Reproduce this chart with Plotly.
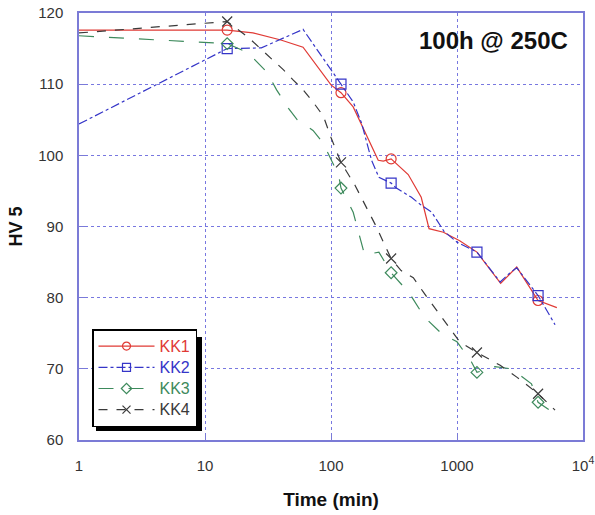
import plotly.graph_objects as go

# ---- data ----
kk1_t = [1, 15, 24, 40, 60, 100, 120, 150, 237, 260, 300, 410, 520, 600, 780, 1050, 1440, 2220, 2980, 4400, 6200]
kk1_hv = [117.6, 117.6, 117.2, 116.2, 115.2, 109.9, 108.8, 106.8, 99.3, 99.2, 99.5, 97.3, 94.1, 89.7, 89.2, 88.0, 86.4, 82.0, 84.3, 79.6, 78.6]
kk1_marks = [15, 120, 300, 4400]

kk2_t = [1, 15, 28, 60, 120, 150, 175, 210, 240, 300, 330, 435, 520, 630, 790, 1000, 1440, 2200, 2600, 2980, 4400, 6000]
kk2_hv = [104.4, 115.0, 115.1, 117.7, 110.0, 107.5, 104.5, 99.3, 96.9, 96.1, 95.4, 94.1, 93.0, 92.0, 89.3, 87.8, 86.4, 82.2, 83.4, 84.2, 80.3, 76.2]
kk2_marks = [15, 120, 300, 1440, 4400]

kk3_t = [1, 15, 22, 31, 37, 46, 54, 72, 86, 115, 120, 150, 185, 240, 300, 420, 550, 750, 1000, 1300, 1440, 2000, 2700, 3900, 4400, 6000]
kk3_hv = [116.8, 115.7, 114.4, 111.7, 109.2, 106.6, 105.0, 103.5, 101.8, 97.2, 95.4, 92.0, 86.0, 86.4, 83.5, 80.6, 77.3, 75.0, 73.8, 71.0, 69.5, 70.3, 70.0, 67.9, 65.3, 63.7]
kk3_marks = [15, 120, 300, 1440, 4400]

kk4_t = [1, 15, 22, 33, 42, 50, 60, 72, 87, 100, 120, 155, 190, 230, 270, 300, 360, 450, 550, 700, 870, 1050, 1440, 2200, 3000, 3900, 4400, 6000]
kk4_hv = [117.2, 118.8, 116.6, 113.7, 112.0, 110.6, 109.2, 107.5, 105.5, 102.5, 99.0, 95.8, 92.7, 89.9, 87.2, 85.5, 83.8, 82.8, 80.6, 78.0, 75.8, 73.8, 72.3, 70.5, 68.8, 67.2, 66.5, 64.2]
kk4_marks = [15, 120, 300, 1440, 4400]

names = ["KK1", "KK2", "KK3", "KK4"]
colors = ["#e03a35", "#3535c8", "#3d8a5c", "#3a3a3a"]
dashes = ["solid", "dashdot", "longdash", "dash"]
symbols = ["circle-open", "square-open", "diamond-open", "x-thin-open"]
msizes = [10, 10, 9, 10]

x_ticks = [1, 10, 100, 1000, 10000]
x_ticktext = ["1", "10", "100", "1000", "10<sup>4</sup>"]
y_ticks = [60, 70, 80, 90, 100, 110, 120]

series = [(kk1_t, kk1_hv, kk1_marks), (kk2_t, kk2_hv, kk2_marks),
          (kk3_t, kk3_hv, kk3_marks), (kk4_t, kk4_hv, kk4_marks)]

FONT = "Liberation Sans, Arial"

fig = go.Figure()
for (t, hv, marks), name, c, d, s, ms in zip(series, names, colors, dashes, symbols, msizes):
    fig.add_trace(go.Scatter(x=t, y=hv, mode="lines", line=dict(color=c, width=1.2, dash=d),
                             showlegend=False, hoverinfo="skip"))
    mx = [ti for ti in t if ti in marks]
    my = [h for ti, h in zip(t, hv) if ti in marks]
    fig.add_trace(go.Scatter(x=mx, y=my, mode="markers",
                             marker=dict(symbol=s, size=ms, color=c, line=dict(width=1.2, color=c)),
                             showlegend=False))
for name, c, d, s, ms in zip(names, colors, dashes, symbols, msizes):
    fig.add_trace(go.Scatter(x=[None], y=[None], mode="lines+markers",
                             name=f"<span style='color:{c};font-size:16px'>{name}</span>",
                             line=dict(color=c, width=1.2, dash=d),
                             marker=dict(symbol=s, size=8, color=c, line=dict(width=1.2, color=c))))

axis_col = "#7b7bd6"
grid_col = "#7878e0"
fig.update_xaxes(type="log", range=[0, 4], tickvals=x_ticks, ticktext=x_ticktext,
                 showline=True, mirror=True, linecolor=axis_col, linewidth=1.5,
                 showgrid=True, gridcolor=grid_col, griddash="dot", gridwidth=1.2,
                 ticks="inside", ticklen=6, tickcolor=axis_col, ticklabelstandoff=11,
                 tickfont=dict(family=FONT, size=15, color="#333"),
                 title=dict(text="<b>Time (min)</b>", font=dict(family=FONT, size=19, color="#111"),
                            standoff=20),
                 zeroline=False, automargin=False)
fig.update_yaxes(range=[60, 120], tickvals=y_ticks,
                 showline=True, mirror=True, linecolor=axis_col, linewidth=1.5,
                 showgrid=True, gridcolor=grid_col, griddash="dot", gridwidth=1.2,
                 ticks="inside", ticklen=6, tickcolor=axis_col, ticklabelstandoff=11,
                 tickfont=dict(family=FONT, size=15, color="#333"),
                 title=dict(text="<b>HV 5</b>", font=dict(family=FONT, size=18, color="#111"),
                            standoff=11),
                 zeroline=False, automargin=False)

# legend shadow
fig.add_shape(type="rect", xref="paper", yref="paper",
              x0=(96 - 79) / 504, x1=(202 - 79) / 504, y0=(440 - 431) / 427, y1=(440 - 337) / 427,
              fillcolor="black", line=dict(width=0), layer="above")

fig.add_annotation(text="<b>100h @ 250C</b>", xref="paper", yref="paper", x=0.975, y=0.935,
                   xanchor="right", yanchor="middle", showarrow=False,
                   font=dict(family=FONT, size=24, color="#111"))

fig.update_layout(width=595, height=515, margin=dict(l=79, r=12, t=13, b=75),
                  paper_bgcolor="white", plot_bgcolor="white",
                  legend=dict(x=(92 - 79) / 504, y=(440 - 427) / 427, xanchor="left", yanchor="bottom",
                              bgcolor="white", bordercolor="black", borderwidth=1.5,
                              font=dict(family=FONT, size=14),
                              tracegroupgap=0, itemwidth=56),
                  showlegend=True)

fig.write_html("out.html", config={"displayModeBar": False},
               post_script="document.body.style.margin='0';document.body.style.overflow='hidden';")
